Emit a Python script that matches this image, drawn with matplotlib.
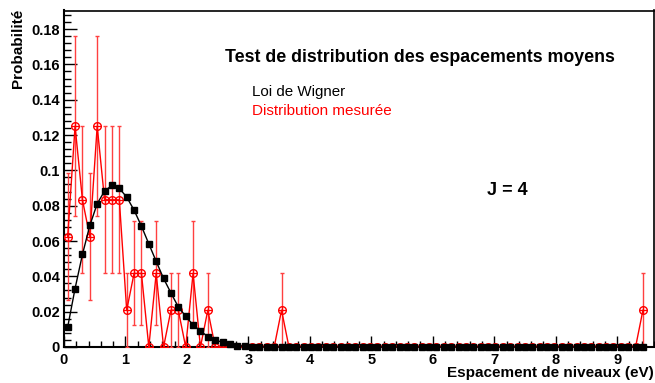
import numpy as np
import matplotlib
matplotlib.use('Agg')
import matplotlib.pyplot as plt
from matplotlib.ticker import MultipleLocator, FuncFormatter

plt.rcParams['font.family'] = ['Liberation Sans', 'DejaVu Sans']

# Binning of the level spacings (eV)
spacing_min = 0.0
spacing_max = 9.48
n_bins = 79

# Wigner surmise, probability per bin
wigner_prob = [0.0113, 0.0331, 0.0524, 0.0688, 0.0811, 0.0883, 0.0915, 0.0898,
               0.0849, 0.0775, 0.0684, 0.0584, 0.0485, 0.0388, 0.0306, 0.0227,
               0.0174, 0.0125, 0.0091, 0.0059, 0.0040, 0.0026, 0.0015, 0.0008,
               0.0004, 0.0002, 0.0001] + [0.0] * 52

# Measured spacings: counts per bin (48 spacings in total)
measured_counts = ([3, 6, 4, 3, 6, 4, 4, 4, 1, 2, 2, 0, 2, 0, 1, 1, 0, 2, 0, 1, 0]
                   + [0] * 8 + [1] + [0] * 48 + [1])
n_total = 48

edges = np.linspace(spacing_min, spacing_max, n_bins + 1)
centers = 0.5 * (edges[:-1] + edges[1:])
wigner_prob = np.array(wigner_prob)
counts = np.array(measured_counts, dtype=float)
meas_prob = counts / n_total
meas_err = np.sqrt(counts) / n_total

W, H = 655, 383
fig = plt.figure(figsize=(W / 100, H / 100), dpi=100)
ax = fig.add_axes([64 / W, 1 - 347 / H, 590 / W, 336.5 / H])

# Measured distribution with statistical errors
has_err = counts > 0
ax.errorbar(centers[has_err], meas_prob[has_err], yerr=meas_err[has_err],
            fmt='none', ecolor='#ff4040', elinewidth=1.0, capsize=1.5,
            capthick=1.0, zorder=3)
ax.plot(centers, meas_prob, color='red', lw=1.0, marker='o', ms=5.5,
        mfc='none', mec='red', mew=1.0, zorder=4)
ax.plot(centers, meas_prob, ls='none', marker='+', ms=5.5, mec='red',
        mew=0.9, zorder=4)

# Wigner curve, drawn on top
ax.plot(centers, wigner_prob, color='black', lw=1.0, marker='s', ms=4.2,
        mfc='black', mec='black', zorder=6, clip_on=False)

ax.set_xlim(0, 9.6)
ax.set_ylim(0, 0.1905)

ax.xaxis.set_major_locator(MultipleLocator(1))
ax.xaxis.set_minor_locator(MultipleLocator(0.2))
ax.yaxis.set_major_locator(MultipleLocator(0.02))
ax.yaxis.set_minor_locator(MultipleLocator(0.004))
ax.yaxis.set_major_formatter(FuncFormatter(lambda v, p: '%g' % round(v, 4)))
ax.xaxis.set_major_formatter(FuncFormatter(lambda v, p: '%g' % round(v, 4)))

ax.tick_params(which='both', direction='in', top=False, right=False,
               labelsize=10.5, width=1.0)
ax.tick_params(axis='y', which='major', length=9, pad=3)
ax.tick_params(axis='y', which='minor', length=5)
ax.tick_params(axis='x', which='major', length=8, pad=4)
ax.tick_params(axis='x', which='minor', length=4)
for lab in ax.get_xticklabels() + ax.get_yticklabels():
    lab.set_fontweight('bold')
for side in ['left', 'bottom']:
    ax.spines[side].set_linewidth(1.5)
for side in ['top', 'right']:
    ax.spines[side].set_linewidth(1.2)

# Axis titles
fig.text(18 / W, 1 - 9 / H, 'Probabilité', rotation=90, ha='center',
         va='top', fontsize=11, fontweight='bold')
fig.text(654 / W, 1 - 373 / H, 'Espacement de niveaux (eV)', ha='right',
         va='center', fontsize=11, fontweight='bold')

# Annotations
fig.text(225 / W, 1 - 57 / H, 'Test de distribution des espacements moyens',
         ha='left', va='center', fontsize=12.8, fontweight='bold')
fig.text(252 / W, 1 - 92 / H, 'Loi de Wigner', ha='left', va='center',
         fontsize=10.9, color='black')
fig.text(252 / W, 1 - 111 / H, 'Distribution mesurée', ha='left',
         va='center', fontsize=11, color='red')
fig.text(487 / W, 1 - 191 / H, 'J = 4', ha='left', va='center',
         fontsize=13, fontweight='bold')

fig.savefig('out.png', dpi=100, facecolor='white')
